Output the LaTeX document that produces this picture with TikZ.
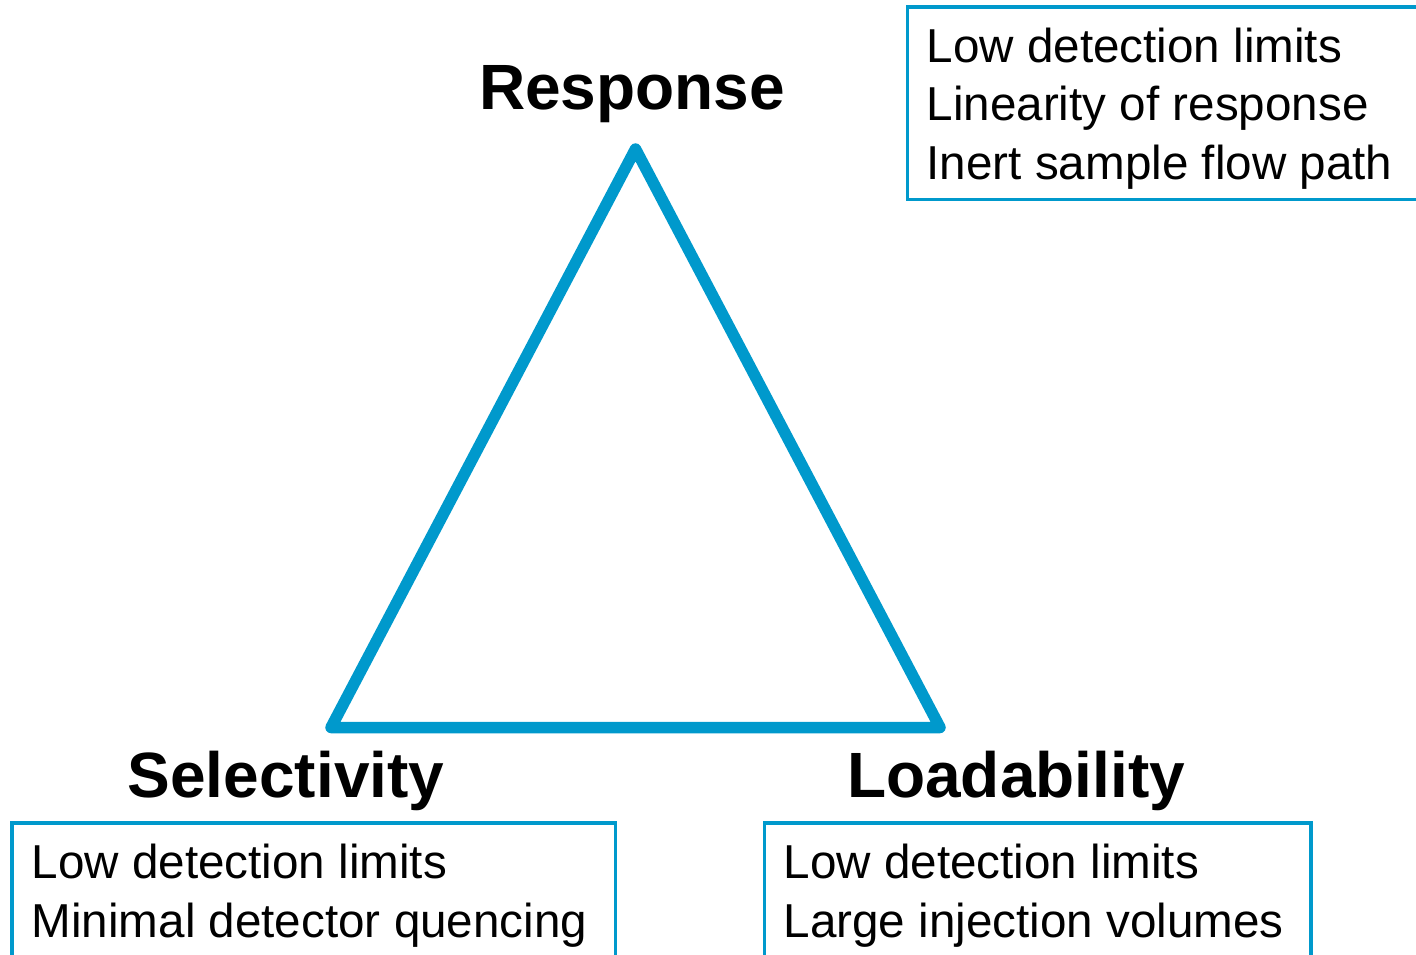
\documentclass[tikz,border=0pt]{standalone}
\usepackage{fontspec}
\setmainfont{Liberation Sans}
\definecolor{tribl}{RGB}{0,153,204}
\begin{document}
\begin{tikzpicture}[x=1pt,y=-1pt,
  title/.style={font=\fontsize{64}{70}\selectfont\bfseries, anchor=base, inner sep=0pt},
  listbox/.style={draw=tribl, line width=3.2pt},
  listline/.style={font=\fontsize{47.6}{58}\selectfont, anchor=base west, inner sep=0pt}]
\useasboundingbox (0,0) rectangle (1416,955);

% triangle
\coordinate (apex) at (635.5,149);
\coordinate (bl) at (331,727.5);
\coordinate (br) at (940,727.5);
\draw[tribl, line width=11.5pt, line join=round] (apex) -- (bl) -- (br) -- cycle;

% corner titles
\node[title] (resp) at (632,110) {Response};
\node[title] (sel) at (286,797) {Selectivity};
\node[title] (load) at (1016,797) {Loadability};

% property boxes
\draw[listbox] (907.5,7) rectangle (1430,199.5);
\draw[listbox] (12,823) rectangle (615.5,970);
\draw[listbox] (764.5,823) rectangle (1311,970);

% box contents
\node[listline] (r1) at (926.5,63) {Low detection limits};
\node[listline] (r2) at (926.5,121) {Linearity of response};
\node[listline] (r3) at (926.5,179) {Inert sample flow path};

\node[listline] (s1) at (31.5,878) {Low detection limits};
\node[listline] (s2) at (31.5,937) {Minimal detector quencing};

\node[listline] (l1) at (783.5,878) {Low detection limits};
\node[listline] (l2) at (783.5,937) {Large injection volumes};
\end{tikzpicture}
\end{document}
